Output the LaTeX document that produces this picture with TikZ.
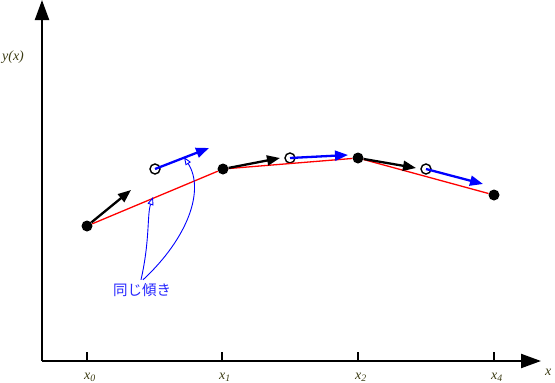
\documentclass[tikz,border=0pt]{standalone}
\usepackage{fontspec}
\setmainfont{Liberation Serif}
\newfontfamily\jpfont{Noto Sans CJK JP}
\usetikzlibrary{arrows.meta}
\definecolor{labcol}{RGB}{60,60,20}
\tikzset{
  dot/.style={circle, fill=black, inner sep=0pt, minimum size=11pt},
  odot/.style={circle, draw=black, line width=1.4pt, fill=white, inner sep=0pt, minimum size=10pt},
  slope/.style={line width=2.3pt, -{Triangle[length=13pt,width=10pt]}},
  axis/.style={line width=2.2pt, -{Triangle[length=20pt,width=14pt]}},
  axlab/.style={text=labcol, inner sep=0pt, font=\itshape\fontsize{14}{16}\selectfont},
  note/.style={blue, line width=0.9pt, -{Triangle[open, length=8pt, width=6pt]}},
}
\begin{document}
\begin{tikzpicture}[x=1pt, y=-1pt]
\useasboundingbox (0,0) rectangle (555,383);
% axes
\coordinate (o) at (42,361);
\coordinate (ytop) at (42,0);
\coordinate (xend) at (541,361);
\draw[axis] (o) -- (ytop);
\draw[axis] (o) -- (xend) node[axlab, anchor=north west, xshift=3pt, yshift=-7pt] (xlab) {x};
\node[axlab] (ylab) at (13,57) {y(x)};
\foreach \px/\n in {87/0, 222/1, 358/2, 494/4}
{
	\draw[line width=1.5pt] (\px,352) -- (\px,361);
	\node[axlab] (t\n) at (\px+3,377) {x\textsubscript{\n}};
}

% grid points and midpoints
\node[dot] (p0) at (87,226) {};
\node[dot] (p1) at (223,169) {};
\node[dot] (p2) at (358,158) {};
\node[dot] (p4) at (494,195) {};
\node[odot] (q0) at (155,169) {};
\node[odot] (q1) at (290,158) {};
\node[odot] (q2) at (426,169) {};

\draw[red, line width=1.3pt] (p0) -- (p1) -- (p2) -- (p4);

% slopes
\coordinate (a0) at (131,190);
\coordinate (a1) at (280,158);
\coordinate (a2) at (416,168);
\coordinate (b0) at (209,148);
\coordinate (b1) at (348,155);
\coordinate (b2) at (483,184);
\draw[slope] (p0) -- (a0);
\draw[slope] (p1) -- (a1);
\draw[slope] (p2) -- (a2);
\draw[slope, blue] (q0.center) -- (b0);
\draw[slope, blue] (q1.center) -- (b1);
\draw[slope, blue] (q2.center) -- (b2);

% same slope note
\node[text=blue!85!white, font=\jpfont\fontsize{14.5}{16}\selectfont] (same) at (142,290) {同じ傾き};
\coordinate (m0) at (153,197);
\coordinate (m1) at (184,157);
\draw[note] ([xshift=-1pt]same.north) .. controls (150,240) and (147,215) .. (m0);
\draw[note] ([xshift=1pt]same.north) .. controls (188,238) and (205,190) .. (m1);
\end{tikzpicture}
\end{document}
